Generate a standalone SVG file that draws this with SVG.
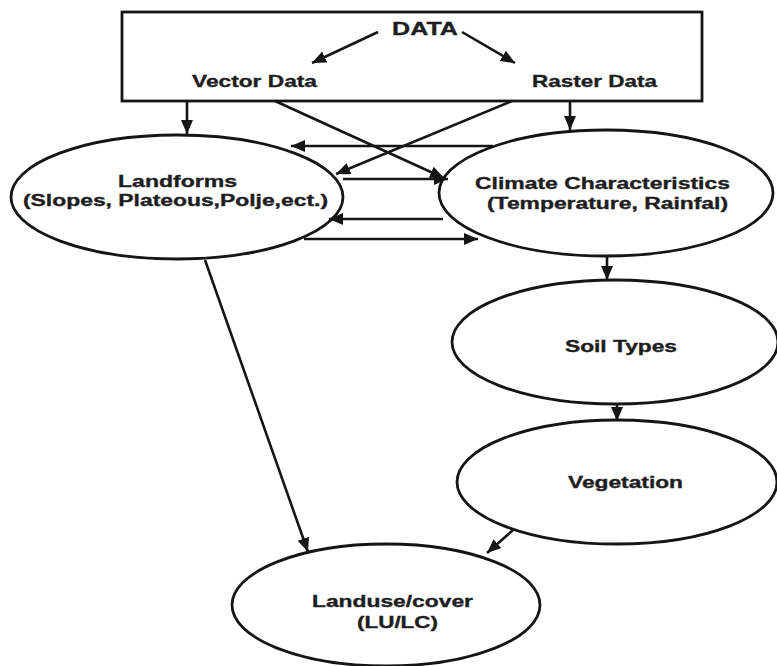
<svg xmlns="http://www.w3.org/2000/svg" width="777" height="666" viewBox="0 0 777 666">
<style>
.shape{fill:#fff;stroke:#151515;stroke-width:2.8}
.edge{fill:none;stroke:#151515;stroke-width:2.6}
text{font-family:"Liberation Sans",Arial,sans-serif;font-weight:bold;fill:#1e1e1e;stroke:#1e1e1e;stroke-width:0.35}
.t16{font-size:16px}
.t17{font-size:17px}
.t18{font-size:18.5px}
</style>
<defs>
<marker id="ah" markerUnits="userSpaceOnUse" markerWidth="16" markerHeight="14" refX="14" refY="6" orient="auto">
<path d="M0,0 L14,6 L0,12 z" fill="#151515"/>
</marker>
</defs>
<rect width="777" height="666" fill="#fff"/>
<g id="data-box">
<rect class="shape" x="122" y="12" width="580" height="89"/>
<text class="t18" x="392" y="35" textLength="66" lengthAdjust="spacingAndGlyphs">DATA</text>
<text class="t17" x="192" y="87" textLength="125" lengthAdjust="spacingAndGlyphs">Vector Data</text>
<text class="t17" x="532" y="87" textLength="125" lengthAdjust="spacingAndGlyphs">Raster Data</text>
</g>
<g id="landforms">
<ellipse class="shape" cx="177" cy="197" rx="166" ry="62"/>
<text class="t16" x="118" y="187" textLength="119" lengthAdjust="spacingAndGlyphs">Landforms</text>
<text class="t16" x="23" y="206" textLength="305" lengthAdjust="spacingAndGlyphs">(Slopes, Plateous,Polje,ect.)</text>
</g>
<g id="climate">
<ellipse class="shape" cx="606" cy="193" rx="167" ry="63"/>
<text class="t16" x="475" y="189" textLength="255" lengthAdjust="spacingAndGlyphs">Climate Characteristics</text>
<text class="t16" x="487" y="209" textLength="241" lengthAdjust="spacingAndGlyphs">(Temperature, Rainfal)</text>
</g>
<g id="soil">
<ellipse class="shape" cx="615" cy="342" rx="163" ry="62"/>
<text class="t16" x="565" y="352" textLength="112" lengthAdjust="spacingAndGlyphs">Soil Types</text>
</g>
<g id="vegetation">
<ellipse class="shape" cx="617" cy="482" rx="160" ry="62"/>
<text class="t16" x="568" y="488" textLength="115" lengthAdjust="spacingAndGlyphs">Vegetation</text>
</g>
<g id="landuse">
<ellipse class="shape" cx="386" cy="605" rx="154" ry="61"/>
<text class="t16" x="312" y="607" textLength="161" lengthAdjust="spacingAndGlyphs">Landuse/cover</text>
<text class="t16" x="357" y="628" textLength="81" lengthAdjust="spacingAndGlyphs">(LU/LC)</text>
</g>
<g id="connectors">
<line class="edge" x1="378" y1="32" x2="312" y2="63" marker-end="url(#ah)"/>
<line class="edge" x1="462" y1="32" x2="515" y2="63" marker-end="url(#ah)"/>
<line class="edge" x1="187" y1="101" x2="187" y2="134" marker-end="url(#ah)"/>
<line class="edge" x1="570" y1="101" x2="570" y2="130" marker-end="url(#ah)"/>
<line class="edge" x1="275" y1="101" x2="444" y2="178" marker-end="url(#ah)"/>
<line class="edge" x1="512" y1="101" x2="336" y2="174" marker-end="url(#ah)"/>
<line class="edge" x1="493" y1="146" x2="291" y2="146" marker-end="url(#ah)"/>
<line class="edge" x1="343" y1="179" x2="448" y2="179" marker-end="url(#ah)"/>
<line class="edge" x1="443" y1="219" x2="329" y2="219" marker-end="url(#ah)"/>
<line class="edge" x1="304" y1="239" x2="478" y2="239" marker-end="url(#ah)"/>
<line class="edge" x1="607" y1="256" x2="607" y2="280" marker-end="url(#ah)"/>
<line class="edge" x1="617" y1="404" x2="617" y2="421" marker-end="url(#ah)"/>
<line class="edge" x1="205" y1="260" x2="308" y2="552" marker-end="url(#ah)"/>
<line class="edge" x1="513" y1="530" x2="487" y2="553" marker-end="url(#ah)"/>
</g>
</svg>
